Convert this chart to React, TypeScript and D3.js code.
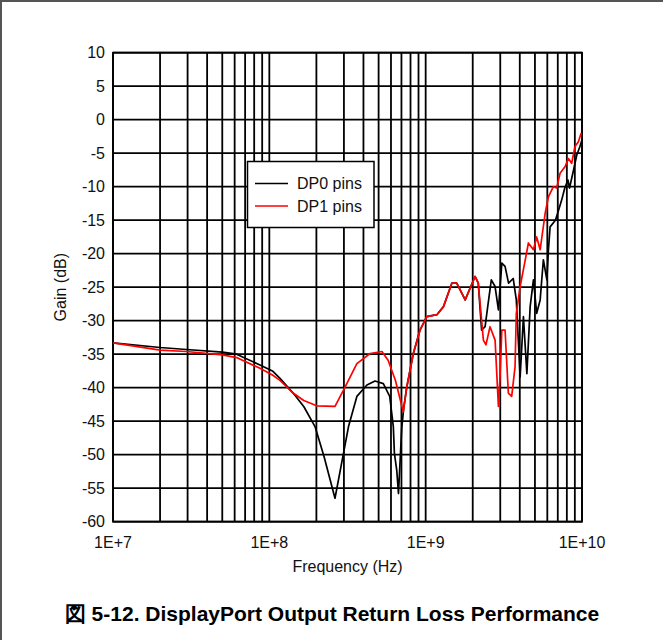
import * as d3 from 'd3'

// DP0 pins (black trace)
const dp0Freq = [
  1e7, 2.0e7, 2.95e7, 5.01e7, 6.17e7, 8.71e7, 1.047e8, 1.17e8, 1.42e8, 1.66e8,
  1.96e8, 2.24e8, 2.63e8, 2.98e8, 3.21e8, 3.63e8, 4.21e8, 4.74e8, 5.36e8, 5.89e8,
  6.21e8, 6.31e8, 6.53e8, 6.70e8, 7.03e8, 7.24e8, 7.57e8, 8.34e8, 9.20e8, 1.016e9,
  1.18e9, 1.30e9, 1.47e9, 1.58e9, 1.79e9, 2.07e9, 2.17e9, 2.28e9, 2.40e9, 2.51e9,
  2.63e9, 2.78e9, 2.92e9, 3.07e9, 3.22e9, 3.39e9, 3.63e9, 3.80e9, 4.02e9, 4.22e9,
  4.44e9, 4.66e9, 4.89e9, 5.13e9, 5.40e9, 5.66e9, 5.96e9, 6.10e9, 6.25e9, 6.76e9,
  7.08e9, 7.41e9, 7.76e9, 8.13e9, 8.32e9, 8.83e9, 9.25e9, 9.70e9, 1e10,
]
const dp0Gain = [
  -33.3, -34.0, -34.3, -34.7, -35.0, -36.6, -37.5, -38.6, -40.8, -42.8,
  -45.8, -50.3, -56.5, -49.8, -45.8, -41.3, -39.6, -39.0, -39.4, -41.3,
  -45.8, -49.8, -52.3, -55.8, -46.0, -43.0, -39.9, -34.9, -31.4, -29.4,
  -29.1, -27.9, -24.4, -24.4, -26.9, -23.4, -24.4, -31.4, -30.9, -27.4,
  -23.9, -24.9, -28.4, -21.4, -21.9, -24.4, -23.7, -26.9, -38.4, -29.4,
  -37.9, -27.9, -23.9, -28.9, -26.9, -20.9, -23.9, -19.4, -16.0, -15.0,
  -13.5, -12.0, -10.2, -9.0, -10.2, -7.5, -5.3, -4.0, -3.0,
]

// DP1 pins (red trace)
const dp1Freq = [
  1e7, 2.0e7, 2.95e7, 5.01e7, 6.17e7, 8.71e7, 1.047e8, 1.17e8, 1.42e8, 1.66e8,
  2.01e8, 2.63e8, 3.05e8, 3.63e8, 4.41e8, 5.25e8, 5.75e8, 6.40e8, 7.19e8, 7.57e8,
  8.34e8, 9.20e8, 1.016e9, 1.18e9, 1.30e9, 1.47e9, 1.58e9, 1.79e9, 2.07e9, 2.17e9,
  2.34e9, 2.43e9, 2.58e9, 2.78e9, 2.92e9, 2.99e9, 3.07e9, 3.22e9, 3.38e9, 3.55e9,
  3.73e9, 3.80e9, 4.02e9, 4.33e9, 4.54e9, 4.89e9, 5.13e9, 5.40e9, 5.81e9, 6.10e9,
  6.25e9, 6.56e9, 6.89e9, 7.24e9, 7.80e9, 8.18e9, 8.59e9, 9.02e9, 9.48e9, 9.89e9,
]
const dp1Gain = [
  -33.3, -34.4, -34.6, -35.1, -35.5, -37.1, -38.1, -38.9, -40.8, -41.9,
  -42.7, -42.8, -39.9, -36.4, -34.9, -34.6, -35.9, -38.9, -43.6, -39.9,
  -34.9, -31.4, -29.4, -29.1, -27.9, -24.4, -24.4, -26.9, -23.4, -24.4,
  -32.9, -33.6, -30.9, -32.9, -42.8, -38.4, -31.4, -31.4, -40.8, -41.3,
  -36.9, -28.9, -24.9, -21.0, -18.4, -19.4, -17.5, -19.4, -14.0, -11.5,
  -11.0, -10.0, -10.2, -8.0, -7.0, -5.8, -6.5, -4.0, -3.3, -2.0,
]

const yTicks = d3.range(10, -61, -5)
const xLabels = ['1E+7', '1E+8', '1E+9', '1E+10']
const legendNames = ['DP0 pins', 'DP1 pins']
const seriesColors = ['#000000', '#ff0000']

const W = 663
const H = 640
const plot = { left: 113, top: 52.7, right: 582, bottom: 521.7 }
const font = '"Liberation Sans", Arial, sans-serif'

export default function App() {
  const x = d3.scaleLog().domain([1e7, 1e10]).range([plot.left, plot.right])
  const y = d3.scaleLinear().domain([-60, 10]).range([plot.bottom, plot.top])

  // every 1..9 x decade, like a log paper grid
  const xGrid: number[] = []
  for (let e = 7; e < 10; e++) {
    for (let m = 1; m < 10; m++) xGrid.push(m * Math.pow(10, e))
  }
  xGrid.push(1e10)

  const line = d3
    .line<[number, number]>()
    .x((d) => x(d[0]))
    .y((d) => y(d[1]))

  const dp0 = dp0Freq.map((f, i) => [f, dp0Gain[i]] as [number, number])
  const dp1 = dp1Freq.map((f, i) => [f, dp1Gain[i]] as [number, number])

  return (
    <svg
      width={W}
      height={H}
      style={{ position: 'absolute', left: 0, top: 0, display: 'block', background: '#fff' }}
      fontFamily={font}
    >
      <line x1={0} x2={W} y1={1} y2={1} stroke="#555" strokeWidth={2} />
      <line x1={1} x2={1} y1={0} y2={H} stroke="#555" strokeWidth={2} />

      <g stroke="#000" strokeWidth={1.8}>
        {xGrid.map((v) => (
          <line key={'x' + v} x1={x(v)} x2={x(v)} y1={plot.top} y2={plot.bottom} />
        ))}
        {yTicks.map((v) => (
          <line key={'y' + v} x1={plot.left} x2={plot.right} y1={y(v)} y2={y(v)} />
        ))}
      </g>
      <rect
        x={plot.left}
        y={plot.top}
        width={plot.right - plot.left}
        height={plot.bottom - plot.top}
        fill="none"
        stroke="#000"
        strokeWidth={1.8}
      />

      <g fontSize={16} fill="#111">
        {yTicks.map((v) => (
          <text key={v} x={plot.left - 8} y={y(v)} dy="0.36em" textAnchor="end">
            {v}
          </text>
        ))}
        {xLabels.map((t, i) => (
          <text key={t} x={x(Math.pow(10, 7 + i))} y={548} textAnchor="middle">
            {t}
          </text>
        ))}
      </g>

      <path d={line(dp0) ?? ''} fill="none" stroke={seriesColors[0]} strokeWidth={1.7} strokeLinejoin="round" />
      <path d={line(dp1) ?? ''} fill="none" stroke={seriesColors[1]} strokeWidth={1.7} strokeLinejoin="round" />

      <g>
        <rect x={247.5} y={161.5} width={126.5} height={66} fill="#fff" stroke="#000" strokeWidth={1.5} />
        {legendNames.map((n, i) => (
          <g key={n} transform={`translate(0,${183.5 + i * 22.5})`}>
            <line x1={255} x2={288} y1={0} y2={0} stroke={seriesColors[i]} strokeWidth={1.6} />
            <text x={297} y={0} dy="0.36em" fontSize={16} fill="#111">
              {n}
            </text>
          </g>
        ))}
      </g>

      <text x={(plot.left + plot.right) / 2} y={572} textAnchor="middle" fontSize={16} fill="#111">
        Frequency (Hz)
      </text>
      <text
        transform={`translate(66,${(plot.top + plot.bottom) / 2}) rotate(-90)`}
        textAnchor="middle"
        fontSize={16}
        fill="#111"
      >
        Gain (dB)
      </text>

      <text x={332} y={621} textAnchor="middle" fontSize={21} fontWeight="bold" fill="#000">
        図 5-12. DisplayPort Output Return Loss Performance
      </text>
    </svg>
  )
}
